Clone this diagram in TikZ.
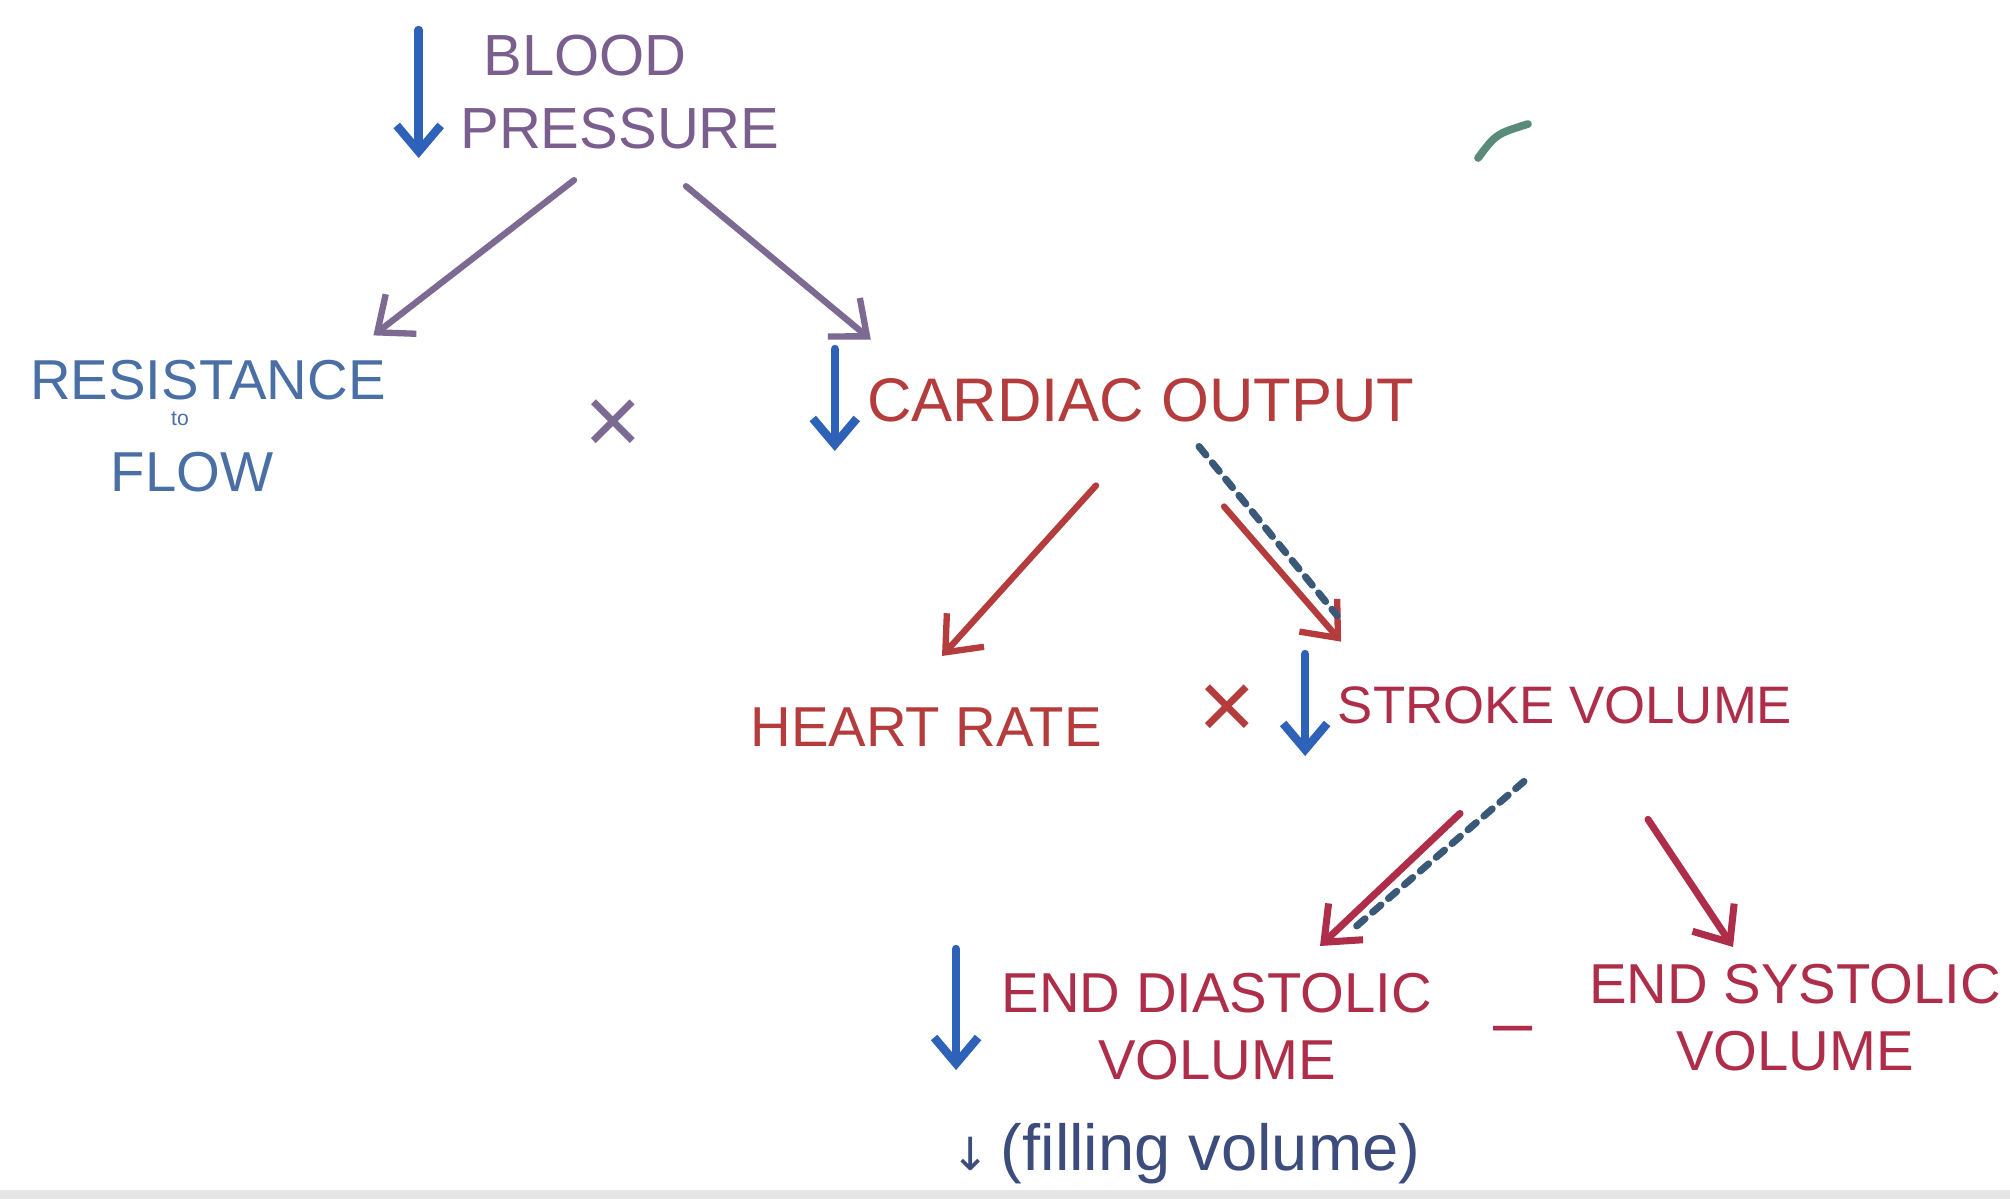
\documentclass[tikz,border=0pt]{standalone}
\usepackage{fontspec}
\setmainfont{Liberation Sans}
\newfontfamily\symfont{DejaVu Sans}
\usetikzlibrary{arrows.meta, positioning}

\definecolor{bpPurple}{HTML}{7A5E8E}
\definecolor{bpArrow}{HTML}{7C6A92}
\definecolor{downBlue}{HTML}{2E62B8}
\definecolor{resBlue}{HTML}{4A6FA5}
\definecolor{coRed}{HTML}{B43C3C}
\definecolor{svRed}{HTML}{AE2E4A}
\definecolor{dashBlue}{HTML}{3A5878}
\definecolor{fillBlue}{HTML}{3C4C7C}
\definecolor{tickGreen}{HTML}{5A8A7A}

\begin{document}
\begin{tikzpicture}[
  x=0.01cm, y=-0.01cm,
  lbl/.style={inner sep=0pt, align=center, font=\fontsize{16}{19}\selectfont},
  times/.style={inner sep=0pt, font=\fontsize{28}{30}\selectfont},
  bparr/.style={-{Straight Barb[length=3mm,width=5mm]}, line width=1.8pt, bpArrow, line cap=round},
  coarr/.style={-{Straight Barb[length=3mm,width=5mm]}, line width=1.8pt, coRed, line cap=round},
  svarr/.style={-{Straight Barb[length=3mm,width=5mm]}, line width=2pt, svRed, line cap=round},
  downarr/.style={-{Straight Barb[length=2.6mm,width=4.4mm]}, line width=2.4pt, downBlue, line cap=round},
  dasharr/.style={line width=2pt, dashBlue, dash pattern=on 1.1mm off 1mm, line cap=round}
]
% page
\fill[white] (0,0) rectangle (2010,1199);
\fill[gray!20] (0,1190) rectangle (2010,1199);
\useasboundingbox (0,0) rectangle (2010,1199);

% top
\node[lbl, bpPurple, font=\fontsize{16.5}{21}\selectfont] (bp) at (620,92) {\hspace*{-1.2em}BLOOD\\PRESSURE};
\node[lbl, resBlue] (res) at (208,380) {RESISTANCE};
\node[lbl, resBlue, font=\fontsize{6}{7}\selectfont, below=3pt of res, xshift=-0.28cm] (resto) {to};
\node[lbl, resBlue, below=7pt of resto, xshift=0.12cm] (resflow) {FLOW};
\node[times, bpArrow] (x1) at (613,427) {×};
\node[lbl, coRed, font=\fontsize{17.5}{21}\selectfont] (co) at (1141,400) {CARDIAC OUTPUT};

% middle
\node[lbl, coRed] (hr) at (926,727) {HEART RATE};
\node[times, coRed] (x2) at (1227,712) {×};
\node[lbl, svRed, font=\fontsize{15}{18}\selectfont] (sv) at (1565,705) {STROKE VOLUME};

% bottom
\node[lbl, svRed] (edv) at (1217,1027) {END DIASTOLIC\\VOLUME};
\node[lbl, svRed, font=\fontsize{20}{22}\selectfont] (minus) at (1513,1036) {–};
\node[lbl, svRed] (esv) at (1795,1018) {END SYSTOLIC\\VOLUME};
\node[lbl, fillBlue, font=\fontsize{18.5}{21}\selectfont] (fill) at (1186,1154) {{\symfont\fontsize{13}{14}\selectfont ↓}\,(filling volume)};

% down arrows
\draw[downarr] ([shift={(-41,-62)}]bp.west) -- ([shift={(-41,66)}]bp.west);
\draw[downarr] ([shift={(-32,-51)}]co.west) -- ([shift={(-32,51)}]co.west);
\draw[downarr] ([shift={(-32,-51)}]sv.west) -- ([shift={(-32,51)}]sv.west);
\draw[downarr] ([shift={(-45,-78)}]edv.west) -- ([shift={(-45,43)}]edv.west);

% connectors
\draw[bparr] ([shift={(-46,30)}]bp.south) -- ([shift={(-13,-24)}]res.north east);
\draw[bparr] ([shift={(66,36)}]bp.south) -- ([shift={(4,-38)}]co.north west);
\draw[coarr] ([shift={(-45,63)}]co.south) -- ([shift={(16,-51)}]hr.north);
\draw[coarr] ([shift={(83,84)}]co.south) -- ([shift={(4,-44)}]sv.north west);
\draw[dasharr] ([shift={(58,24)}]co.south) -- ([shift={(0,-70)}]sv.north west);
\draw[svarr] ([shift={(-105,89)}]sv.south) -- ([shift={(103,-27)}]edv.north);
\draw[dasharr] ([shift={(-41,57)}]sv.south) -- ([shift={(135,-43)}]edv.north);
\draw[svarr] ([shift={(83,95)}]sv.south) -- ([shift={(-62,-17)}]esv.north);

% stray mark
\draw[tickGreen, line width=2.2pt, line cap=round] (1478,158) .. controls (1496,134) .. (1528,124);
\end{tikzpicture}
\end{document}
